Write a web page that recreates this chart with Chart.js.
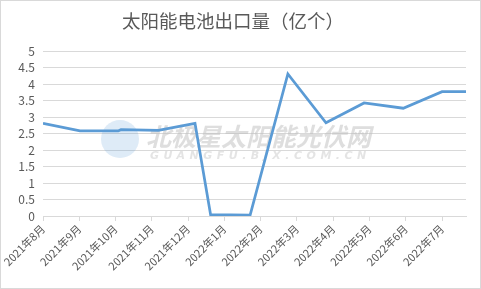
<!DOCTYPE html>
<html>
<head>
<meta charset="utf-8">
<script src="https://cdn.jsdelivr.net/npm/chart.js@4"></script>
<style>
  html, body { margin: 0; padding: 0; background: #fff; }
  #wrap { width: 481px; height: 289px; position: relative; }
</style>
</head>
<body>
<div id="wrap"><canvas id="exportChart"></canvas></div>
<script>
// tick labels (one per month)
const months = ["2021年8月", "2021年9月", "2021年10月", "2021年11月", "2021年12月", "2022年1月",
  "2022年2月", "2022年3月", "2022年4月", "2022年5月", "2022年6月", "2022年7月"];
// line points: position along the month axis and value (亿个)
const xPos = [0, 1.02, 2.07, 2.15, 3.18, 4.19, 4.62, 5.71, 6.75, 7.80, 8.85, 9.93, 11.0, 11.66];
const volume = [2.81, 2.58, 2.58, 2.62, 2.6, 2.81, 0.04, 0.03, 4.31, 2.83, 3.43, 3.27, 3.77, 3.77];
const axisEnd = 11.66;

const GRID = "#d9d9d9";
const TEXT = "#595959";
const FONT = "'Noto Sans CJK SC', 'DejaVu Sans', sans-serif";

const frame = {
  id: "frame",
  beforeDraw(chart) {
    const { ctx, width, height } = chart;
    ctx.save();
    ctx.fillStyle = "#fff";
    ctx.fillRect(0, 0, width, height);
    ctx.strokeStyle = "#d9d9d9";
    ctx.lineWidth = 1;
    ctx.strokeRect(0.5, 0.5, width - 1, height - 1);
    ctx.restore();
  },
  beforeDatasetsDraw(chart) {
    // faint site watermark
    const { ctx } = chart;
    ctx.save();
    ctx.fillStyle = "rgba(91,155,213,0.2)";
    ctx.beginPath();
    ctx.arc(120, 139, 19, 0, Math.PI * 2);
    ctx.fill();
    ctx.fillStyle = "rgba(190,190,190,0.5)";
    ctx.font = "italic bold 25px " + FONT;
    ctx.textBaseline = "middle";
    ctx.fillText("北极星太阳能光伏网", 146, 136);
    ctx.font = "italic bold 11px 'DejaVu Sans', sans-serif";
    ctx.letterSpacing = "4.5px";
    ctx.fillStyle = "rgba(205,205,205,0.55)";
    ctx.fillText("GUANGFU.BJX.COM.CN", 150, 156);
    ctx.restore();
  }
};

new Chart(document.getElementById("exportChart"), {
  type: "line",
  data: {
    datasets: [{
      data: xPos.map((x, i) => ({ x, y: volume[i] })),
      borderColor: "#5b9bd5",
      borderWidth: 2.75,
      pointRadius: 0,
      tension: 0,
      fill: false
    }]
  },
  plugins: [frame],
  options: {
    responsive: true,
    maintainAspectRatio: false,
    animation: false,
    layout: { padding: { left: 0, right: 15, top: 0, bottom: 0 } },
    plugins: {
      legend: { display: false },
      tooltip: { enabled: false },
      title: {
        display: true,
        text: "太阳能电池出口量（亿个）",
        color: TEXT,
        font: { family: FONT, size: 18.5, weight: "normal" },
        padding: { top: 10, bottom: 19 }
      }
    },
    scales: {
      x: {
        type: "linear",
        min: 0,
        max: axisEnd,
        afterBuildTicks(scale) {
          scale.ticks = months.map((_, i) => ({ value: i }));
        },
        afterFit(scale) { scale.height = 289 - 216; },
        grid: { drawOnChartArea: false, drawTicks: true, tickLength: 5, color: GRID },
        border: { color: GRID },
        ticks: {
          autoSkip: false,
          minRotation: 45,
          maxRotation: 45,
          color: TEXT,
          padding: 1,
          font: { family: FONT, size: 11 },
          callback: (v) => months[v]
        }
      },
      y: {
        min: 0,
        max: 5,
        afterFit(scale) { scale.width = 43; },
        grid: { color: GRID, drawTicks: false },
        border: { display: false },
        ticks: {
          stepSize: 0.5,
          autoSkip: false,
          color: TEXT,
          padding: 8,
          font: { family: FONT, size: 12 },
          callback: (v) => String(+v.toFixed(1))
        }
      }
    }
  }
});
</script>
</body>
</html>
